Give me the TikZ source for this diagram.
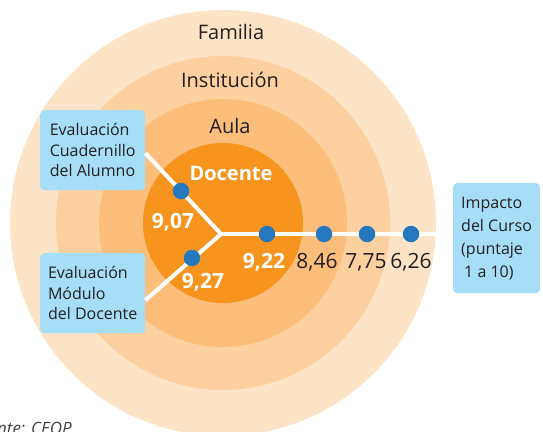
\documentclass[tikz,border=0pt]{standalone}
\usepackage{fontspec}
\setmainfont{Open Sans}
\usetikzlibrary{positioning}

\definecolor{ringfam}{RGB}{254,228,199}
\definecolor{ringinst}{RGB}{253,208,160}
\definecolor{ringaula}{RGB}{252,190,122}
\definecolor{ringdoc}{RGB}{247,148,29}
\definecolor{boxblue}{RGB}{166,222,248}
\definecolor{dotblue}{RGB}{38,120,190}
\definecolor{ink}{RGB}{35,31,32}

\begin{document}
\begin{tikzpicture}[x=1pt, y=-1pt,
      every node/.append style={inner sep=0pt, text=ink},
      ring/.style={circle, minimum size=#1},
      box/.style={fill=boxblue, rounded corners=4pt, align=left, inner xsep=7pt,
        anchor=north west, font=\fontsize{16}{20.5}\selectfont},
      dot/.style={circle, fill=dotblue, minimum size=16.5pt},
      branch/.style={draw=white, line width=4pt}]
    \tikzstyle{score} = [anchor=base, font=\fontsize{21}{21}\selectfont]
    \tikzstyle{wscore} = [score, text=white, font=\fontsize{21}{21}\selectfont\bfseries]
    \tikzstyle{ringlabel} = [anchor=base, font=\fontsize{20}{20}\selectfont]
    \useasboundingbox (0,0) rectangle (543,431);
    \clip (0,0) rectangle (543,431);
    % rings
    \node[ring=426pt, fill=ringfam] (fam) at (223,223) {};
    \node[ring=334pt, fill=ringinst] (inst) at (223,223) {};
    \node[ring=248pt, fill=ringaula] (aula) at (223,223) {};
    \node[ring=160pt, fill=ringdoc] (doc) at (223,223) {};
    \node[ringlabel] (lfam) at (231,39) {Familia};
    \node[ringlabel] (linst) at (230,87) {Institución};
    \node[ringlabel] (laula) at (230,133) {Aula};
    \node[ringlabel, text=white, font=\fontsize{20}{20}\selectfont\bfseries] (ldoc) at (231,180) {Docente};
    % boxes
    \node[box, minimum width=105pt, minimum height=80pt] (cuad) at (40,110) {Evaluación\\Cuadernillo\\del Alumno};
    \node[box, minimum width=105pt, minimum height=80pt] (mod) at (40,253) {Evaluación\\Módulo\\del Docente};
    \node[box, minimum height=110pt, inner xsep=8pt, font=\fontsize{16}{23}\selectfont] (imp) at (453,183)
      {Impacto\\del Curso\\(puntaje\\\hspace*{3pt}1 a 10)};
    % branches
    \coordinate (hub) at (221,234);
    \draw[branch] ([yshift=-3pt]cuad.east) -- (hub);
    \draw[branch] ([yshift=-7pt]mod.east) -- (hub);
    \draw[branch] (hub) -- (hub -| fam.east);
    \node[dot] (d1) at (181,191) {};
    \node[dot] (d2) at (192,258) {};
    \node[dot] (d3) at (267,234) {};
    \node[dot] (d4) at (324,234) {};
    \node[dot] (d5) at (367,234) {};
    \node[dot] (d6) at (411,234) {};
    % scores
    \node[wscore] (s1) at (173,228) {9,07};
    \node[wscore] (s2) at (203,288) {9,27};
    \node[wscore] (s3) at (264,268) {9,22};
    \node[score] (s4) at (317,268) {8,46};
    \node[score] (s5) at (366,268) {7,75};
    \node[score] (s6) at (411,268) {6,26};
    \node[anchor=north east, text=ink!85, font=\fontsize{17}{17}\selectfont\itshape] (src) at (72,422) {Fuente: CEOP};
\end{tikzpicture}
\end{document}
